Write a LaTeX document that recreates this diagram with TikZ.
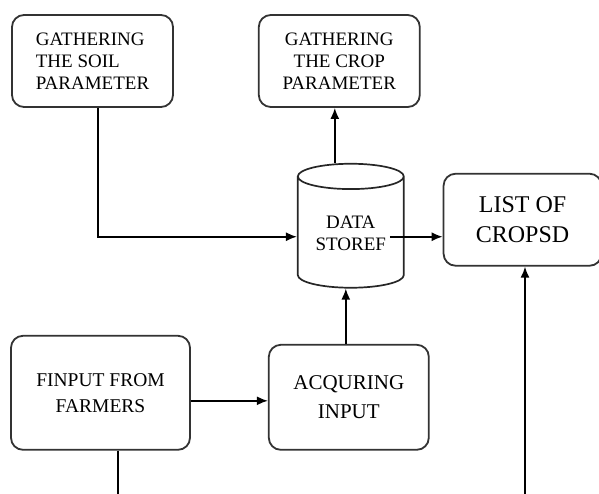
\documentclass[tikz,border=0pt]{standalone}
\usepackage{fontspec}
\setmainfont{Liberation Serif}
\usetikzlibrary{shapes,shapes.geometric,arrows,arrows.meta,positioning}
\tikzset{
  box/.style={rectangle, rounded corners=12pt, draw=black!80, line width=1.8pt, inner sep=2pt, align=center},
  store/.style={cylinder, shape border rotate=90, aspect=0.35, draw=black!85, line width=1.7pt, inner sep=1pt, align=center},
  connect/.style={-{Latex[length=11pt,width=9pt]}, line width=1.7pt},
  plain/.style={line width=1.7pt}
}

\begin{document}
\begin{tikzpicture}[x=1pt,y=-1pt]
  \useasboundingbox (0,0) rectangle (599,494);
  \node[box,minimum width=161pt,minimum height=92pt,align=left,font=\fontsize{19}{22}\selectfont] (soil) at (92.5,61) {GATHERING\\THE SOIL\\PARAMETER};
  \node[box,minimum width=161pt,minimum height=92pt,font=\fontsize{19}{22}\selectfont] (crop) [right=84pt of soil] {GATHERING\\THE CROP\\PARAMETER};
  \node[store,minimum width=106pt,minimum height=124pt,font=\fontsize{19}{22}\selectfont] (data) [below=55pt of crop,xshift=11.5pt] {DATA\\STOREF};
  \node[box,minimum width=158pt,minimum height=92pt,font=\fontsize{24}{30}\selectfont] (list) [right=38pt of data,yshift=14pt] {LIST OF\\CROPSD};
  \node[box,minimum width=179pt,minimum height=114pt,font=\fontsize{19.5}{26}\selectfont] (farm) [below=227pt of soil,xshift=8pt] {FINPUT FROM\\FARMERS};
  \node[box,minimum width=160pt,minimum height=105pt,font=\fontsize{21}{29}\selectfont] (acq) [right=77pt of farm,yshift=-4.5pt] {ACQURING\\INPUT};
  \coordinate (farmend) at (118,494);
  \coordinate (listend) at (525,494);

  \draw[connect] ([xshift=5.5pt]soil.south) |- ([yshift=-3pt]data.west);
  \draw[connect] ([xshift=39pt,yshift=-3pt]data.center) -- ([yshift=-3pt]data.center -| list.west);
  \draw[connect] ([xshift=-16pt]data.north) -- ([xshift=-16pt]data.north |- crop.south);
  \draw[connect] ([xshift=-3pt]acq.north) -- ([xshift=-3pt]acq.north |- data.south);
  \draw[connect] ([yshift=-8pt]farm.east) -- ([yshift=-8pt]farm.east -| acq.west);
  \draw[plain] ([xshift=17.5pt]farm.south) -- (farmend);
  \draw[connect] (listend) -- (listend |- list.south);

\end{tikzpicture}
\end{document}
